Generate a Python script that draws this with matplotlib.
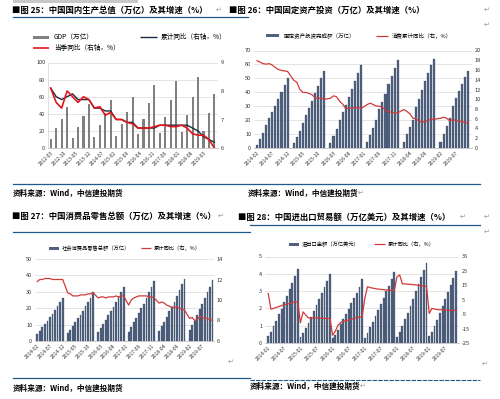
import numpy as np
import pandas as pd
import matplotlib
matplotlib.use('Agg')
import matplotlib.pyplot as plt
from matplotlib.lines import Line2D
from matplotlib.patches import Rectangle

plt.rcParams['font.family'] = ['Noto Sans CJK SC', 'DejaVu Sans']
plt.rcParams['axes.unicode_minus'] = False

# ---------------- data ----------------
# Fig 25: GDP quarterly (2012Q1 - 2019Q3)
gdp_values = [10.8, 23.0, 34.5, 48.5, 11.8, 24.8, 37.5, 52.0, 12.8, 26.5, 41.0, 56.0,
              13.5, 28.0, 42.5, 60.0, 16.5, 33.8, 53.0, 73.5, 17.5, 36.0, 56.0, 78.0,
              18.5, 38.5, 60.0, 82.5, 20.0, 41.0, 63.0]
gdp_cum_yoy = [8.1, 7.8, 7.7, 7.8, 7.9, 7.7, 7.7, 7.7, 7.4, 7.4, 7.3, 7.3,
               7.0, 7.0, 6.9, 6.9, 6.7, 6.7, 6.7, 6.7, 6.8, 6.8, 6.8, 6.8,
               6.8, 6.8, 6.7, 6.6, 6.4, 6.3, 6.2]
gdp_q_yoy = [8.1, 7.6, 7.4, 8.0, 7.8, 7.6, 7.8, 7.7, 7.4, 7.45, 7.15, 7.25,
             7.0, 7.0, 6.9, 6.85, 6.7, 6.7, 6.7, 6.75, 6.8, 6.8, 6.75, 6.75,
             6.8, 6.7, 6.5, 6.45, 6.45, 6.3, 6.0]
gdp_ticklabels = ['2012-03', '2012-10', '2013-05', '2013-12', '2014-07', '2015-02', '2015-09',
                  '2016-04', '2016-11', '2017-06', '2018-01', '2018-08', '2019-03']

# Fig 26: fixed asset investment, monthly 2014-02 .. 2019-11 (no January data)
fai_values = [2.1, 6.8, 10.9, 16.2, 21.3, 25.7, 30.3, 35.1, 40.1, 45.1, 50.2,
              None, 3.4, 7.8, 12.3, 18.0, 23.7, 28.6, 34.0, 39.4, 44.7, 49.9, 55.2,
              None, 3.6, 8.6, 13.4, 19.9, 25.8, 30.6, 36.4, 42.6, 48.1, 53.6, 59.7,
              None, 4.2, 9.4, 14.5, 20.4, 28.1, 32.7, 38.6, 45.8, 51.7, 57.5, 63.2,
              None, 4.5, 10.0, 15.3, 20.2, 29.7, 35.4, 41.9, 48.3, 54.0, 59.8, 63.6,
              None, 4.5, 10.2, 15.6, 21.8, 29.9, 35.6, 41.0, 46.1, 51.0, 55.3]
fai_yoy = [17.9, 17.6, 17.3, 17.2, 17.3, 17.0, 16.5, 16.1, 15.9, 15.8, 15.7,
           None, 13.9, 13.5, 12.0, 11.4, 11.4, 11.2, 10.9, 10.3, 10.2, 10.2, 10.0,
           None, 10.2, 10.7, 10.5, 9.6, 9.0, 8.1, 8.1, 8.2, 8.3, 8.3, 8.1,
           None, 8.9, 9.2, 8.9, 8.6, 8.6, 8.3, 7.8, 7.5, 7.3, 7.2, 7.2,
           None, 7.9, 7.5, 7.0, 6.1, 6.0, 5.5, 5.3, 5.4, 5.7, 5.9, 5.9,
           None, 6.1, 6.3, 6.1, 5.6, 5.8, 5.7, 5.5, 5.4, 5.2, 5.2]
monthly_ticklabels_feb = ['2014-02', '2014-07', '2014-12', '2015-05', '2015-10', '2016-03', '2016-08',
                          '2017-01', '2017-06', '2017-11', '2018-04', '2018-09', '2019-02', '2019-07']

# Fig 27: retail sales, monthly 2014-02 .. 2019-11
retail_values = [4.19, 6.24, 8.25, 10.37, 12.42, 14.44, 16.57, 18.92, 21.17, 23.51, 26.24,
                 None, 4.67, 6.96, 9.21, 11.56, 13.84, 16.08, 18.45, 21.06, 23.55, 26.13, 30.09,
                 None, 5.2, 7.8, 10.3, 12.9, 15.6, 18.1, 20.7, 23.6, 26.6, 29.6, 33.2,
                 None, 5.7, 8.6, 11.3, 14.2, 17.2, 20.0, 22.8, 26.3, 29.6, 33.1, 36.6,
                 None, 6.1, 9.0, 11.8, 14.8, 18.0, 20.9, 24.0, 27.4, 30.9, 34.5, 38.1,
                 None, 6.6, 9.8, 12.4, 15.7, 19.5, 22.8, 26.0, 29.7, 33.2, 37.3]
retail_yoy = [11.8, 12.0, 12.0, 12.1, 12.1, 12.1, 12.0, 12.0, 12.0, 12.0, 12.0,
              None, 10.7, 10.6, 10.4, 10.4, 10.4, 10.5, 10.5, 10.5, 10.6, 10.6, 10.7,
              None, 10.2, 10.3, 10.3, 10.2, 10.3, 10.3, 10.3, 10.4, 10.3, 10.4, 10.4,
              None, 9.5, 10.0, 10.2, 10.3, 10.4, 10.4, 10.4, 10.4, 10.3, 10.3, 10.2,
              None, 9.7, 9.8, 9.7, 9.5, 9.4, 9.3, 9.3, 9.3, 9.2, 9.1, 9.0,
              None, 8.2, 8.3, 8.0, 8.1, 8.4, 8.3, 8.2, 8.2, 8.1, 8.0]

# Fig 28: trade, monthly 2014-01 .. 2019-11
trade_values = [0.38, 0.63, 0.97, 1.30, 1.65, 1.99, 2.37, 2.73, 3.13, 3.49, 3.87, 4.30,
                0.34, 0.56, 0.86, 1.17, 1.49, 1.83, 2.19, 2.53, 2.89, 3.21, 3.57, 3.96,
                0.28, 0.49, 0.78, 1.07, 1.37, 1.68, 1.98, 2.30, 2.61, 2.91, 3.25, 3.69,
                0.31, 0.59, 0.92, 1.24, 1.58, 1.93, 2.26, 2.62, 2.98, 3.32, 3.70, 4.10,
                0.37, 0.64, 1.00, 1.36, 1.75, 2.14, 2.57, 2.98, 3.39, 3.80, 4.22, 4.62,
                0.39, 0.61, 0.98, 1.35, 1.74, 2.13, 2.54, 2.93, 3.33, 3.73, 4.14]
trade_yoy = [9.4, -1.5, -1.0, -0.3, 0.3, 1.0, 1.5, 2.0, 2.5, 3.0, 3.6, 3.4,
             -11.0, -3.4, -5.7, -7.6, -7.8, -7.5, -7.5, -7.8, -7.8, -8.0, -8.0, -8.0,
             -19.6, -16.9, -12.7, -10.8, -10.0, -9.5, -9.0, -8.5, -8.0, -7.5, -7.0, -6.8,
             6.0, 14.0, 13.5, 13.0, 12.7, 12.4, 12.2, 12.0, 11.8, 11.6, 11.5, 11.4,
             21.0, 22.2, 16.0, 16.0, 15.8, 15.7, 15.5, 15.3, 15.0, 14.8, 14.5, 14.2,
             -4.5, -1.0, -1.5, -1.8, -2.0, -2.0, -2.2, -2.3, -2.4, -2.4, -2.5]
trade_ticklabels = ['2014-01', '2014-07', '2015-01', '2015-07', '2016-01', '2016-07',
                    '2017-01', '2017-07', '2018-01', '2018-07', '2019-01', '2019-07']

# ---------------- figure ----------------
W, H = 500, 399
fig = plt.figure(figsize=(5, 3.99), dpi=100)


def fx(x):
    return x / W


def fy(y):
    return 1 - y / H


def rect(x0, y0, x1, y1):
    return [fx(x0), fy(y1), (x1 - x0) / W, (y1 - y0) / H]


BLUE = '#1f5a8c'
NAVY = '#50627f'
NAVY_EDGE = '#33435c'
RED1 = '#e3161d'
RED2 = '#d23a3a'
GRID = '#d9d9d9'
TXT = '#333333'


def hline(x0, x1, y, color=BLUE, lw=0.9, ls='-'):
    fig.add_artist(Line2D([fx(x0), fx(x1)], [fy(y), fy(y)], transform=fig.transFigure,
                          color=color, lw=lw, ls=ls))


def text(x, y, s, size=6, weight='normal', color='black', **kw):
    fig.text(fx(x), fy(y), s, fontsize=size, fontweight=weight, color=color,
             va='center', ha='left', **kw)


def leg_patch(x0, x1, y, color):
    fig.add_artist(Rectangle((fx(x0), fy(y + 1.5)), (x1 - x0) / W, 3 / H,
                             transform=fig.transFigure, color=color, lw=0))


def leg_line(x0, x1, y, color, lw):
    fig.add_artist(Line2D([fx(x0), fx(x1)], [fy(y), fy(y)], transform=fig.transFigure,
                          color=color, lw=lw, solid_capstyle='butt'))


def style(ax, ax2, left_spine=False):
    for a in (ax, ax2):
        for s in a.spines.values():
            s.set_visible(False)
        a.tick_params(axis='y', length=0, labelsize=4, colors=TXT, pad=2)
    ax.spines['bottom'].set_visible(True)
    ax.spines['bottom'].set_color('#bfbfbf')
    ax.spines['bottom'].set_linewidth(0.6)
    if left_spine:
        ax.spines['left'].set_visible(True)
        ax.spines['left'].set_color('#d0d0d0')
        ax.spines['left'].set_linewidth(0.5)
    ax.grid(axis='y', color=GRID, lw=0.5)
    ax.set_axisbelow(True)
    ax.tick_params(axis='x', length=0, labelsize=3.6, colors=TXT, pad=1.5)


def set_xticks(ax, pos, labels):
    ax.set_xticks(pos)
    ax.set_xticklabels(labels, rotation=45, ha='right', rotation_mode='anchor')


def arr(lst):
    return np.array([np.nan if v is None else v for v in lst], dtype=float)


# ---- top decoration ----
fig.add_artist(Rectangle((fx(13), fy(3)), 125 / W, 3 / H, transform=fig.transFigure,
                         color='#c8c8c8', lw=0))

# ---- titles ----
text(12, 10, '■图 25：中国国内生产总值（万亿）及其增速（%）', size=6, weight='bold')
text(216, 10, '↵', size=5, color='#999999')
text(229, 10, '■图 26：中国固定资产投资（万亿）及其增速（%）', size=6, weight='bold')
text(484, 10, '↵', size=5, color='#999999')
text(484, 25, '↵', size=5, color='#999999')
hline(13, 248, 17)

text(12, 216, '■图 27：中国消费品零售总额（万亿）及其增速（%）', size=6, weight='bold')
text(218, 216, '↵', size=5, color='#999999')
hline(13, 250, 232)
text(238, 217, '■图 28：中国进出口贸易额（万亿美元）及其增速（%）', size=6, weight='bold')
text(460, 217, '↵', size=5, color='#999999')
text(484, 217, '↵', size=5, color='#999999')
text(484, 232, '↵', size=5, color='#999999')
hline(250, 480, 225)

# ---- source lines ----
hline(13, 480, 184)
text(13, 193, '资料来源：Wind，中信建投期货', size=5.5, weight='bold')
text(248, 193, '资料来源：Wind，中信建投期货', size=5.5, weight='bold')
text(358, 193, '↵', size=5, color='#999999')
hline(13, 250, 378)
hline(250, 480, 380, lw=0.8, ls=(0, (4, 1)))
text(13, 388, '资料来源：Wind，中信建投期货', size=5.5, weight='bold')
text(250, 386, '资料来源：Wind，中信建投期货', size=5.5, weight='bold')
text(360, 386, '↵', size=5, color='#999999')
text(228, 362, '↵', size=5, color='#999999')
text(482, 364, '↵', size=5, color='#999999')

# ---------------- Panel 1: GDP ----------------
ax = fig.add_axes(rect(48, 62.5, 218, 148))
ax2 = ax.twinx()
xq = np.arange(len(gdp_values)) * 3
ax.bar(xq, gdp_values, width=1.15, color='#808080', zorder=2)
ax2.plot(xq, gdp_cum_yoy, color='#1b2a40', lw=1.0, zorder=3)
ax2.plot(xq, gdp_q_yoy, color=RED1, lw=1.2, zorder=4)
ax.set_xlim(-1.5, 92)
ax.set_ylim(0, 100)
ax.set_yticks(range(0, 101, 20))
ax2.set_ylim(6, 9)
ax2.set_yticks([6, 7, 8, 9])
style(ax, ax2, left_spine=True)
set_xticks(ax, list(range(0, 85, 7)), gdp_ticklabels)

leg_patch(33, 49, 37, '#808080')
text(54, 37, 'GDP（万亿）', size=4.8)
leg_line(140, 157, 37, '#1b2a40', 1.0)
text(161, 37, '累计同比（右轴，%）', size=4.8)
leg_line(33, 49, 48, RED1, 1.2)
text(54, 48, '当季同比（右轴，%）', size=4.8)

# ---------------- Panel 2: FAI ----------------
ax = fig.add_axes(rect(254, 50.5, 472, 148))
ax2 = ax.twinx()
fv = arr(fai_values)
fyv = arr(fai_yoy)
xm = np.arange(len(fv))
ax.bar(xm, fv, width=0.68, color=NAVY, edgecolor=NAVY_EDGE, lw=0.2, zorder=2)
ok = ~np.isnan(fyv)
ax2.plot(xm[ok], fyv[ok], color=RED2, lw=0.9, zorder=3)
ax.set_xlim(-1, 70.3)
ax.set_ylim(0, 70)
ax.set_yticks(range(0, 71, 10))
ax2.set_ylim(0, 20)
ax2.set_yticks(range(0, 21, 2))
style(ax, ax2)
set_xticks(ax, list(range(0, 66, 5)), monthly_ticklabels_feb)

leg_patch(266, 279, 35.5, NAVY)
text(283, 35.5, '固定资产投资完成额（万亿）', size=4)
leg_line(376, 388, 35.5, RED2, 0.9)
text(392, 35.5, '消费累计同比（右，%）', size=4)

# ---------------- Panel 3: retail ----------------
ax = fig.add_axes(rect(35, 259, 214, 341))
ax2 = ax.twinx()
rv = arr(retail_values)
ry = arr(retail_yoy)
xm = np.arange(len(rv))
ax.bar(xm, rv, width=0.7, color=NAVY, edgecolor=NAVY_EDGE, lw=0.2, zorder=2)
ok = ~np.isnan(ry)
ax2.plot(xm[ok], ry[ok], color=RED2, lw=0.9, zorder=3)
ax.set_xlim(-0.9, 69.6)
ax.set_ylim(0, 50)
ax.set_yticks(range(0, 51, 10))
ax2.set_ylim(6, 14)
ax2.set_yticks(range(6, 15, 2))
style(ax, ax2)
set_xticks(ax, list(range(0, 66, 5)), monthly_ticklabels_feb)

leg_patch(49, 59, 248, NAVY)
text(62, 248, '社会消费品零售总额（万亿）', size=3.8)
leg_line(141, 151, 248, RED2, 0.9)
text(154, 248, '累计同比（右，%）', size=3.8)

# ---------------- Panel 4: trade ----------------
ax = fig.add_axes(rect(265, 256.5, 459, 343))
ax2 = ax.twinx()
tv = arr(trade_values)
ty = arr(trade_yoy)
xm = np.arange(len(tv))
ax.bar(xm, tv, width=0.68, color=NAVY, edgecolor=NAVY_EDGE, lw=0.2, zorder=2)
ax2.plot(xm, ty, color=RED2, lw=0.9, zorder=3)
ax.set_xlim(-1.2, 71.1)
ax.set_ylim(0, 5)
ax.set_yticks(range(0, 6))
ax2.set_ylim(-25, 35)
ax2.set_yticks(range(-25, 36, 10))
style(ax, ax2)
set_xticks(ax, list(range(0, 67, 6)), trade_ticklabels)

leg_patch(289, 299, 244, NAVY)
text(302, 244, '进出口金额（万亿美元）', size=3.8)
leg_line(374, 385, 244, RED2, 0.9)
text(388, 244, '累计同比（右，%）', size=3.8)

fig.savefig('out.png', dpi=100, facecolor='white')
